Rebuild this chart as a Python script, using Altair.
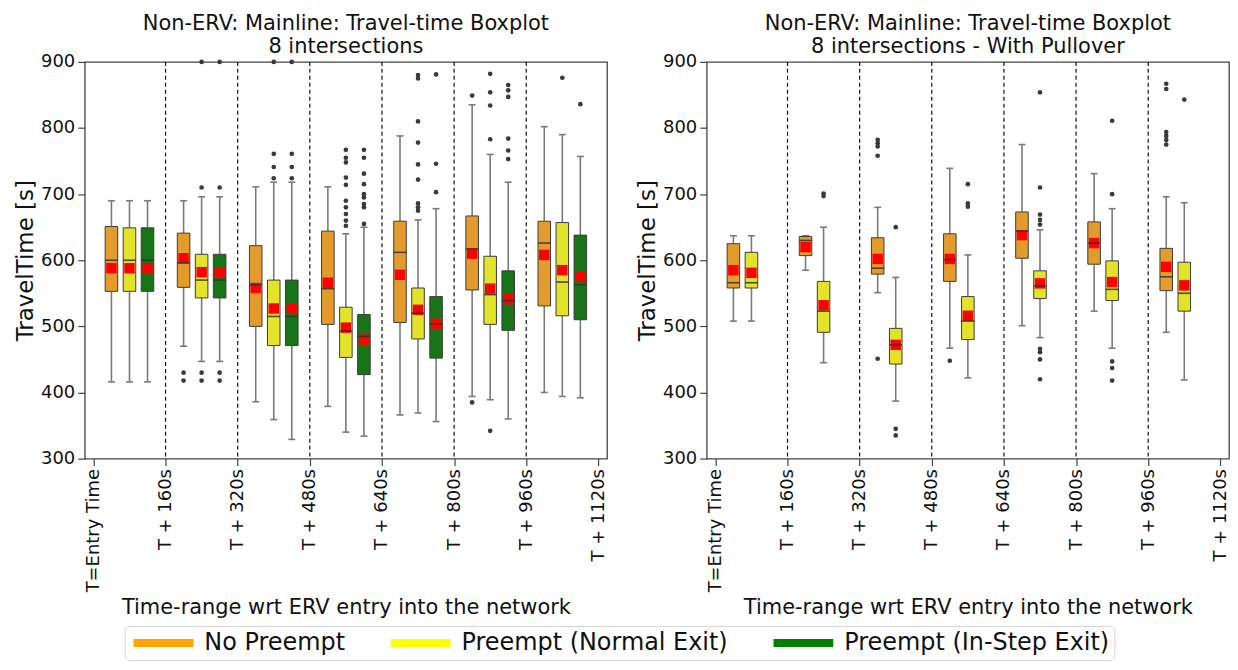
import json
import altair as alt
import pandas as pd

# ---------------- data ----------------
SERIES = ["No Preempt", "Preempt (Normal Exit)", "Preempt (In-Step Exit)"]
LEGEND_COLORS = ["#FFA500", "#FFFF00", "#008000"]
BOX_COLORS = ["#E39C2C", "#E3E32B", "#177517"]
TICK_LABELS = ["T=Entry Time", "T + 160s", "T + 320s", "T + 480s",
               "T + 640s", "T + 800s", "T + 960s", "T + 1120s"]
Y_TICKS = [300, 400, 500, 600, 700, 800, 900]
TITLE_LEFT = ["Non-ERV: Mainline: Travel-time Boxplot", "8 intersections"]
TITLE_RIGHT = ["Non-ERV: Mainline: Travel-time Boxplot", "8 intersections - With Pullover"]
X_TITLE = "Time-range wrt ERV entry into the network"
Y_TITLE = "TravelTime [s]"

# Left panel: No Preempt
L_NP_LO = [416, 470, 386, 379, 366, 394, 400]
L_NP_Q1 = [553, 559, 500, 503, 506, 555, 531]
L_NP_MED = [600, 596, 563, 557, 612, 617, 626]
L_NP_Q3 = [651, 641, 622, 644, 659, 667, 659]
L_NP_HI = [690, 690, 711, 711, 788, 835, 802]
L_NP_MEAN = [588, 603, 558, 566, 578, 610, 608]
L_NP_OUT = [[], [430, 418], [], [], [], [849, 385], []]

# Left panel: Preempt (Normal Exit)
L_NE_LO = [416, 447, 359, 340, 369, 389, 394]
L_NE_Q1 = [553, 543, 471, 453, 481, 503, 516]
L_NE_MED = [600, 570, 515, 493, 520, 548, 567]
L_NE_Q3 = [649, 609, 570, 529, 558, 606, 657]
L_NE_HI = [690, 696, 718, 640, 661, 760, 790]
L_NE_MEAN = [588, 582, 527, 498, 525, 557, 585]
L_NE_OUT = [[], [900, 710, 430, 418], [900, 761, 741, 724],
            [767, 755, 748, 725, 714, 690, 680, 670, 660, 652],
            [880, 875, 810, 778, 745, 722, 686, 680, 675],
            [882, 854, 834, 783, 342], [876]]

# Left panel: Preempt (In-Step Exit)
L_IS_LO = [416, 447, 329, 334, 356, 360, 392]
L_IS_Q1 = [553, 543, 471, 427, 452, 494, 510]
L_IS_MED = [600, 570, 515, 485, 504, 539, 563]
L_IS_Q3 = [649, 609, 570, 518, 545, 584, 638]
L_IS_HI = [690, 696, 718, 650, 678, 718, 757]
L_IS_MEAN = [588, 582, 527, 480, 504, 541, 575]
L_IS_OUT = [[], [900, 710, 430, 418], [900, 761, 741, 724],
            [767, 755, 731, 715, 700, 695, 685, 680, 655],
            [881, 746, 703], [865, 857, 847, 784, 766, 753], [836]]

# Right panel: No Preempt
R_NP_LO = [508, 585, 551, 467, 501, 523, 491]
R_NP_Q1 = [558, 607, 579, 568, 603, 594, 554]
R_NP_MED = [566, 630, 588, 601, 644, 626, 575]
R_NP_Q3 = [625, 636, 634, 640, 673, 658, 618]
R_NP_HI = [637, 637, 680, 739, 775, 731, 696]
R_NP_MEAN = [585, 620, 602, 602, 638, 626, 590]
R_NP_OUT = [[], [], [782, 777, 772, 758, 451], [448], [], [],
            [867, 859, 794, 788, 782, 775]]

# Right panel: Preempt (Normal Exit)
R_NE_LO = [508, 445, 387, 422, 483, 467, 419]
R_NE_Q1 = [558, 491, 443, 480, 542, 539, 523]
R_NE_MED = [566, 523, 472, 508, 561, 556, 550]
R_NE_Q3 = [612, 568, 497, 545, 584, 599, 597]
R_NE_HI = [637, 650, 574, 608, 646, 678, 687]
R_NE_MEAN = [581, 532, 472, 516, 565, 567, 562]
R_NE_OUT = [[], [701, 697], [650, 345, 335], [715, 686, 681],
            [854, 710, 669, 661, 654, 466, 461, 450, 420],
            [811, 700, 447, 437, 418], [843]]

LEFT_STATS = [
    (L_NP_LO, L_NP_Q1, L_NP_MED, L_NP_Q3, L_NP_HI, L_NP_MEAN, L_NP_OUT),
    (L_NE_LO, L_NE_Q1, L_NE_MED, L_NE_Q3, L_NE_HI, L_NE_MEAN, L_NE_OUT),
    (L_IS_LO, L_IS_Q1, L_IS_MED, L_IS_Q3, L_IS_HI, L_IS_MEAN, L_IS_OUT),
]
RIGHT_STATS = [
    (R_NP_LO, R_NP_Q1, R_NP_MED, R_NP_Q3, R_NP_HI, R_NP_MEAN, R_NP_OUT),
    (R_NE_LO, R_NE_Q1, R_NE_MED, R_NE_Q3, R_NE_HI, R_NE_MEAN, R_NE_OUT),
]

N_GROUPS = len(TICK_LABELS) - 1
BOX_HALF = 0.087
CAP_HALF = 0.048
FONT = "DejaVu Sans"
TXT = "#111111"
# wide flat bar used as legend symbol (unit path, scaled by symbolSize)
BAR_PATH = "M-4,-0.55H4V0.55H-4Z"


def build(stats):
    box_rows, out_rows = [], []
    for s_idx, (lo, q1, med, q3, hi, mean, outs) in enumerate(stats):
        for g in range(len(lo)):
            pos = g + 0.25 * (s_idx + 1)
            box_rows.append(dict(series=SERIES[s_idx], kind=s_idx, pos=pos,
                                 xl=pos - BOX_HALF, xr=pos + BOX_HALF,
                                 cl=pos - CAP_HALF, cr=pos + CAP_HALF,
                                 lo=lo[g], q1=q1[g], med=med[g], q3=q3[g],
                                 hi=hi[g], mean=mean[g]))
            for v in outs[g]:
                out_rows.append(dict(pos=pos, v=v))
    return pd.DataFrame(box_rows), pd.DataFrame(out_rows)


label_expr = "[" + ",".join(json.dumps(t) for t in TICK_LABELS) + "][round(datum.value)]"

xscale = alt.Scale(domain=[-0.12, N_GROUPS + 0.12], nice=False, zero=False)
yscale = alt.Scale(domain=[300, 900], nice=False, zero=False)
xaxis = alt.Axis(values=list(range(N_GROUPS + 1)), labelExpr=label_expr,
                 labelAngle=270, title=X_TITLE, grid=False, domain=False,
                 tickSize=7, labelPadding=3, titlePadding=5)
yaxis = alt.Axis(values=Y_TICKS, title=Y_TITLE, grid=False, domain=False,
                 tickSize=7, labelPadding=3, titlePadding=3)


def X(f):
    return alt.X(f, type="quantitative", scale=xscale, axis=xaxis)


def Y(f):
    return alt.Y(f, type="quantitative", scale=yscale, axis=yaxis)


# box fill uses its own (index based) scale so it is not merged with the legend
fill_enc = alt.Fill("kind:O", scale=alt.Scale(domain=list(range(len(SERIES))),
                                              range=BOX_COLORS), legend=None)

legend_def = alt.Legend(
    orient="none", legendX=40, legendY=566,
    direction="horizontal", columns=len(SERIES), title=None,
    symbolType=BAR_PATH, symbolSize=225, symbolStrokeWidth=0,
    symbolOpacity=1, symbolOffset=22,
    labelFont=FONT, labelFontSize=24, labelColor=TXT, labelOffset=29,
    labelLimit=0, columnPadding=41, padding=5, strokeColor="#d6d6d6",
    cornerRadius=4, fillColor="#ffffff")


def panel(stats, title, with_legend):
    boxes, outs = build(stats)
    bounds = pd.DataFrame({"b": list(range(1, N_GROUPS))})
    base = alt.Chart(boxes)
    dashed = alt.Chart(bounds).mark_rule(color="#111111", strokeWidth=1.2,
                                         strokeDash=[4, 3]).encode(x=X("b"))
    wl = base.mark_rule(color="#7a7a7a", strokeWidth=1.6).encode(
        x=X("pos"), y=Y("lo"), y2="q1")
    wh = base.mark_rule(color="#7a7a7a", strokeWidth=1.6).encode(
        x=X("pos"), y=Y("q3"), y2="hi")
    cl = base.mark_rule(color="#7a7a7a", strokeWidth=1.6).encode(
        x=X("cl"), x2="cr", y=Y("lo"))
    ch = base.mark_rule(color="#7a7a7a", strokeWidth=1.6).encode(
        x=X("cl"), x2="cr", y=Y("hi"))
    box = base.mark_rect(stroke="#3c3c3c", strokeWidth=1).encode(
        x=X("xl"), x2="xr", y=Y("q1"), y2="q3", fill=fill_enc)
    mean = base.mark_square(size=110, color="#FF0000", opacity=1).encode(
        x=X("pos"), y=Y("mean"))
    med = base.mark_rule(color="#333333", strokeWidth=1.6, opacity=0.85).encode(
        x=X("xl"), x2="xr", y=Y("med"))
    pts = alt.Chart(outs).mark_circle(size=22, color="#3a3a3a", opacity=1).encode(
        x=X("pos"), y=Y("v"))
    layers = [dashed, wl, wh, cl, ch, box, mean, med, pts]
    if with_legend:
        leg = base.mark_point(opacity=0, filled=True).encode(
            x=X("pos"), y=Y("med"),
            color=alt.Color("series:N", sort=SERIES,
                            scale=alt.Scale(domain=SERIES, range=LEGEND_COLORS),
                            legend=legend_def))
        layers.append(leg)
    return alt.layer(*layers).properties(
        width=524, height=398,
        title=alt.TitleParams(text=title, font=FONT, fontSize=21, fontWeight="normal",
                              color=TXT, anchor="middle", lineHeight=23, offset=-4))


left = panel(LEFT_STATS, TITLE_LEFT, True)
right = panel(RIGHT_STATS, TITLE_RIGHT, False)

chart = alt.hconcat(left, right, spacing=27).properties(
    padding={"left": 5, "top": 3, "right": 0, "bottom": 0}
).configure_view(stroke="#444444", strokeWidth=1.3).configure_axis(
    labelFont=FONT, labelFontSize=18, labelColor=TXT,
    titleFont=FONT, titleFontSize=21, titleColor=TXT, titleFontWeight="normal",
    tickColor="#444444", tickWidth=1.2
).configure_axisY(titleFontSize=23)

chart.save("out.html", embed_options={"renderer": "svg", "actions": False})
